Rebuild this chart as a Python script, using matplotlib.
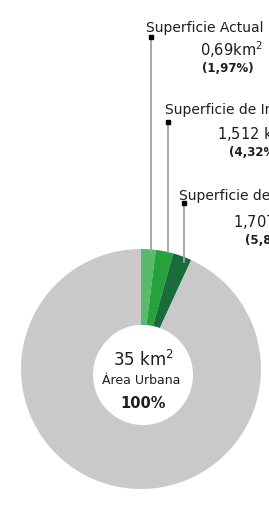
import matplotlib
matplotlib.use("Agg")
import matplotlib.pyplot as plt
from matplotlib.patches import Circle

plt.rcParams['font.family'] = ['DejaVu Sans']
plt.rcParams['mathtext.fontset'] = 'dejavusans'

# data
slice_names = ["Superficie Actual", "Superficie de Intervención", "Superficie de Proyecto", "Resto Área Urbana"]
slice_pct = [1.97, 2.35, 2.55, 93.13]   # wedge shares
slice_colors = ["#5aba6c", "#25a23c", "#1a6d3a", "#c9c9c9"]
label_values = ["0,69km$^2$", "1,512 km$^2$", "1,707 km$^2$"]
label_pcts = ["(1,97%)", "(4,32%)", "(5,88%)"]
total_text = "35 km$^2$"
total_name = "Área Urbana"
total_pct = "100%"

W, H = 269, 505
fig = plt.figure(figsize=(W / 100, H / 100), dpi=100)
ax = fig.add_axes([0, 0, 1, 1])

def Y(y):
    return H - y

cx, cy, R = 141, 369, 120
ax.pie(slice_pct, colors=slice_colors, startangle=90, counterclock=False,
       radius=R, center=(cx, Y(cy)), frame=True,
       wedgeprops=dict(width=R - 44, linewidth=0))
ax.set_xlim(0, W)
ax.set_ylim(0, H)
ax.set_aspect('equal')
ax.axis('off')
ax.add_patch(Circle((143, Y(375)), 50, facecolor='white', edgecolor='none', zorder=5))

# leader lines
lines = [(151, 37, 252), (168, 122, 252), (184, 203, 262)]
for x, yt, yb in lines:
    ax.plot([x, x], [Y(yt), Y(yb)], color='#a0a0a0', lw=1.3, zorder=6)
    ax.plot([x], [Y(yt)], marker='s', ms=2.5, color='black', zorder=7)

# labels
title_pos = [(146, 28), (165, 110), (179, 196)]
val_pos = [(200, 50), (217, 134), (233, 222)]
pct_pos = [(202, 69), (229, 152), (245, 240)]
for i in range(3):
    ax.text(title_pos[i][0], Y(title_pos[i][1]), slice_names[i], fontsize=10,
            ha='left', va='center', color='#1e1e1e')
    ax.text(val_pos[i][0], Y(val_pos[i][1]), label_values[i], fontsize=10.5,
            ha='left', va='center', color='#1e1e1e')
    ax.text(pct_pos[i][0], Y(pct_pos[i][1]), label_pcts[i], fontsize=8.5,
            ha='left', va='center', color='#1e1e1e', fontweight='bold')

ax.text(143, Y(360), total_text, fontsize=12, ha='center', va='center', color='#1e1e1e', zorder=8)
ax.text(141, Y(380), total_name, fontsize=9, ha='center', va='center', color='#1e1e1e', zorder=8)
ax.text(143, Y(404), total_pct, fontsize=10.5, ha='center', va='center', color='#1e1e1e',
        fontweight='bold', zorder=8)

fig.savefig("out.png", dpi=100)
